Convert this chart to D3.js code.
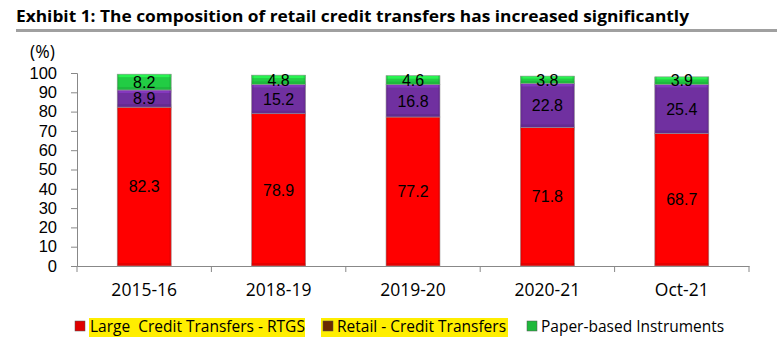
<!DOCTYPE html>
<html><head><meta charset="utf-8">
<script src="https://cdn.jsdelivr.net/npm/d3@7"></script>
<style>body{margin:0;background:#fff}svg{display:block}</style>
</head><body>
<svg id="c" width="777" height="350"></svg>
<script>
const categories = ["2015-16","2018-19","2019-20","2020-21","Oct-21"];
const large = [82.3, 78.9, 77.2, 71.8, 68.7];
const retail = [8.9, 15.2, 16.8, 22.8, 25.4];
const paper = [8.2, 4.8, 4.6, 3.8, 3.9];
const seriesNames = ["Large  Credit Transfers - RTGS","Retail - Credit Transfers","Paper-based Instruments"];
const yTicks = [0,10,20,30,40,50,60,70,80,90,100];

const colors = ["#ff0000","#7030a0","#22cc44"];
const legendColors = ["#e00000","#6b2a00","#1fb83c"];
const font = "'Open Sans', 'Liberation Sans', sans-serif";
const tickFont = "'Liberation Sans', Arial, sans-serif";

const svg = d3.select("#c");

// title
svg.append("text").attr("x",16).attr("y",22)
  .attr("font-family",font).attr("font-weight","bold")
  .attr("font-size",16.5).attr("fill","#000")
  .attr("textLength",673).attr("lengthAdjust","spacingAndGlyphs")
  .text("Exhibit 1: The composition of retail credit transfers has increased significantly");
svg.append("rect").attr("x",16).attr("y",29).attr("width",761).attr("height",3).attr("fill","#a0a0a0");

const x = d3.scaleBand().domain(categories).range([77,749]).paddingInner(0).paddingOuter(0);
const y = d3.scaleLinear().domain([0,100]).range([266,73]);
const barW = 54;

const rows = categories.map((c,i)=>({cat:c, large:large[i], retail:retail[i], paper:paper[i]}));
const stack = d3.stack().keys(["large","retail","paper"])(rows);

// axes
const gy = svg.append("g").attr("transform","translate(77,0)")
  .call(d3.axisLeft(y).tickValues(yTicks).tickSize(6).tickPadding(14));
gy.select(".domain").attr("stroke","#888");
gy.selectAll(".tick line").attr("stroke","#888");
gy.selectAll(".tick text").attr("font-family",tickFont).attr("font-size",16.5).attr("fill","#000");

const gx = svg.append("g").attr("transform","translate(0,266)")
  .call(d3.axisBottom(x).tickSize(0).tickPadding(18));
gx.select(".domain").attr("stroke","#888");
gx.selectAll(".tick text").attr("font-family",font).attr("font-size",17.5).attr("fill","#000");
const bounds = categories.map(c=>x(c)).concat([x(categories[categories.length-1])+x.bandwidth()]);
svg.append("g").selectAll("line").data(bounds).join("line")
  .attr("x1",d=>d).attr("x2",d=>d).attr("y1",266).attr("y2",272).attr("stroke","#888");

// bars
stack.forEach((s,si)=>{
  const g = svg.append("g");
  s.forEach((d,i)=>{
    const cx = x(d.data.cat)+x.bandwidth()/2;
    const x0 = cx-barW/2, y0 = y(d[1]), h = y(d[0])-y(d[1]);
    g.append("rect").attr("x",x0).attr("y",y0).attr("width",barW).attr("height",h).attr("fill",colors[si]);
    const b = Math.min(3, h/3);
    const light = d3.color(colors[si]).brighter(0.6).formatHex();
    const dark = d3.color(colors[si]).darker(0.5).formatHex();
    g.append("rect").attr("x",x0).attr("y",y0).attr("width",barW).attr("height",b).attr("fill",light).attr("opacity",0.8);
    g.append("rect").attr("x",x0).attr("y",y0+h-b).attr("width",barW).attr("height",b).attr("fill",dark).attr("opacity",0.6);
    g.append("rect").attr("x",x0).attr("y",y0).attr("width",2).attr("height",h).attr("fill",dark).attr("opacity",0.4);
    g.append("rect").attr("x",x0+barW-2).attr("y",y0).attr("width",2).attr("height",h).attr("fill",dark).attr("opacity",0.4);
    g.append("rect").attr("x",x0).attr("y",y0).attr("width",barW).attr("height",h).attr("fill","none").attr("stroke","#999").attr("stroke-width",0.6);
  });
});
// value labels
stack.forEach((s,si)=>{
  svg.append("g").selectAll("text").data(s).join("text")
    .attr("x",d=>x(d.data.cat)+x.bandwidth()/2)
    .attr("y",d=>(y(d[0])+y(d[1]))/2).attr("dy","0.36em")
    .attr("text-anchor","middle").attr("font-family",tickFont).attr("font-size",16).attr("fill","#000")
    .text(d=>d.data[s.key].toFixed(1));
});

// y unit
svg.append("text").attr("x",30).attr("y",58).attr("font-family",font).attr("font-size",17.5).attr("fill","#000").text("(%)");

// legend
const legend = [
  {name:seriesNames[0], mx:75, tx:90, hl:[89,305], col:legendColors[0]},
  {name:seriesNames[1], mx:323, tx:337, hl:[321,508], col:legendColors[1]},
  {name:seriesNames[2], mx:527, tx:541, hl:null, col:legendColors[2]}
];
const lg = svg.append("g");
legend.forEach(l=>{
  if(l.hl) lg.append("rect").attr("x",l.hl[0]).attr("y",318).attr("width",l.hl[1]-l.hl[0]).attr("height",19).attr("fill","#ffee00");
});
legend.forEach(l=>{
  lg.append("rect").attr("x",l.mx).attr("y",321).attr("width",10).attr("height",10).attr("fill",l.col).attr("stroke","#555").attr("stroke-width",0.5);
  lg.append("text").attr("x",l.tx).attr("y",332).attr("font-family",font).attr("font-size",15.5)
    .attr("fill","#000").style("white-space","pre").text(l.name);
});
</script>
</body></html>
